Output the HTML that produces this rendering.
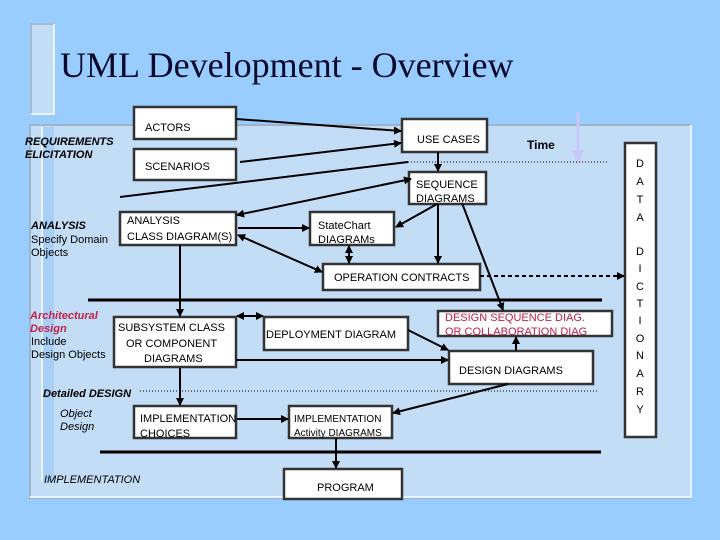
<!DOCTYPE html>
<html><head><meta charset="utf-8"><style>
body{margin:0;width:720px;height:540px;background:#99ccff;overflow:hidden}
svg{display:block}
text{font-family:"Liberation Sans",sans-serif;font-size:11px;fill:#000}
.b{fill:#fff;stroke:#333;stroke-width:2.5}
.l{stroke:#000;stroke-width:2;fill:none}
</style></head><body>
<svg width="720" height="540" viewBox="0 0 720 540">
<defs>
<marker id="a" markerWidth="8" markerHeight="8" refX="7" refY="4" orient="auto-start-reverse" markerUnits="userSpaceOnUse"><path d="M0,0L8,4L0,8z" fill="#000"/></marker>
</defs>
<rect x="30" y="125" width="661" height="373" fill="#c2ddf5" stroke="#9fb4c8" stroke-width="2"/>
<path d="M30,497H691V125" stroke="#eaf4ff" stroke-width="2" fill="none"/>
<rect x="31" y="24" width="23" height="90" fill="#c2ddf5" stroke="#a5b8cc" stroke-width="2"/>
<path d="M54,24V114H31" stroke="#eaf4ff" stroke-width="2" fill="none"/>
<rect x="42" y="127" width="12" height="355" fill="#a8d0f6"/>
<line x1="42" y1="127" x2="42" y2="482" stroke="#eaf4ff" stroke-width="2"/>
<text x="60" y="77" style="font-family:'Liberation Serif',serif;font-size:36px;fill:#0a0a2a">UML Development - Overview</text>
<!-- time arrow -->
<line x1="578" y1="112" x2="578" y2="160" stroke="#c8c8f8" stroke-width="3"/>
<path d="M572,150L578,166L584,150z" fill="#c8c8f8"/>
<text x="527" y="149" style="font-weight:bold;font-size:12px">Time</text>
<!-- thick lines -->
<line x1="88" y1="300" x2="602" y2="300" stroke="#000" stroke-width="3"/>
<line x1="100" y1="452" x2="601" y2="452" stroke="#000" stroke-width="3"/>
<line x1="408" y1="162" x2="607" y2="162" stroke="#000" stroke-dasharray="1,2"/>
<line x1="140" y1="391" x2="598" y2="391" stroke="#000" stroke-dasharray="1,2"/>
<!-- boxes -->
<rect class="b" x="134" y="107" width="102" height="32"/><text x="145" y="131">ACTORS</text>
<rect class="b" x="134" y="149" width="102" height="31"/><text x="145" y="170">SCENARIOS</text>
<rect class="b" x="402" y="119" width="85" height="33"/><text x="417" y="143">USE CASES</text>
<rect class="b" x="409" y="172" width="77" height="32"/><text x="416" y="188">SEQUENCE</text><text x="416" y="202">DIAGRAMS</text>
<rect class="b" x="120" y="212" width="116" height="33"/><text x="127" y="224">ANALYSIS</text><text x="127" y="240">CLASS DIAGRAM(S)</text>
<rect class="b" x="310" y="212" width="84" height="33"/><text x="318" y="229">StateChart</text><text x="318" y="243">DIAGRAMs</text>
<rect class="b" x="323" y="264" width="157" height="26"/><text x="334" y="281">OPERATION CONTRACTS</text>
<rect class="b" x="625" y="143" width="31" height="294"/>
<g style="text-anchor:middle"><text x="640" y="167">D</text><text x="640" y="185">A</text><text x="640" y="203">T</text><text x="640" y="221">A</text>
<text x="640" y="255">D</text><text x="640" y="272">I</text><text x="640" y="290">C</text><text x="640" y="307">T</text><text x="640" y="324">I</text><text x="640" y="342">O</text><text x="640" y="359">N</text><text x="640" y="377">A</text><text x="640" y="395">R</text><text x="640" y="413">Y</text></g>
<rect class="b" x="114" y="317" width="122" height="50"/><text x="118" y="331">SUBSYSTEM CLASS</text><text x="126" y="347">OR COMPONENT</text><text x="144" y="362">DIAGRAMS</text>
<rect class="b" x="264" y="317" width="144" height="33"/><text x="266" y="338">DEPLOYMENT DIAGRAM</text>
<rect class="b" x="438" y="311" width="174" height="25"/><text x="445" y="321" style="fill:#c0204a">DESIGN SEQUENCE  DIAG.</text><text x="445" y="335" style="fill:#c0204a">OR COLLABORATION DIAG</text>
<rect class="b" x="449" y="351" width="144" height="33"/><text x="459" y="374">DESIGN  DIAGRAMS</text>
<rect class="b" x="134" y="406" width="102" height="32"/><text x="140" y="422">IMPLEMENTATION</text><text x="140" y="437">CHOICES</text>
<rect class="b" x="289" y="406" width="103" height="32"/><text x="294" y="422" style="font-size:10px">IMPLEMENTATION</text><text x="294" y="436" style="font-size:10px">Activity DIAGRAMS</text>
<rect class="b" x="284" y="469" width="118" height="30"/><text x="317" y="491">PROGRAM</text>
<!-- connectors -->
<line class="l" x1="236" y1="119" x2="401" y2="131" marker-end="url(#a)"/>
<line class="l" x1="240" y1="162" x2="401" y2="143" marker-end="url(#a)"/>
<line class="l" x1="120" y1="197" x2="408" y2="162"/>
<line class="l" x1="237" y1="215" x2="411" y2="179" marker-start="url(#a)" marker-end="url(#a)"/>
<line class="l" x1="238" y1="228" x2="309" y2="228" marker-end="url(#a)"/>
<line class="l" x1="238" y1="235" x2="322" y2="272" marker-start="url(#a)" marker-end="url(#a)"/>
<line class="l" x1="349" y1="246" x2="349" y2="263" marker-start="url(#a)" marker-end="url(#a)"/>
<line class="l" x1="438" y1="152" x2="438" y2="171" marker-end="url(#a)"/>
<line class="l" x1="437" y1="204" x2="396" y2="227" marker-end="url(#a)"/>
<line class="l" x1="438" y1="204" x2="438" y2="263" marker-end="url(#a)"/>
<line class="l" x1="462" y1="203" x2="503" y2="310" marker-end="url(#a)"/>
<line x1="480" y1="276" x2="624" y2="276" stroke="#000" stroke-width="2" stroke-dasharray="4,3" marker-end="url(#a)"/>
<line class="l" x1="180" y1="245" x2="180" y2="316" marker-end="url(#a)"/>
<line class="l" x1="237" y1="316" x2="263" y2="316" marker-start="url(#a)" marker-end="url(#a)"/>
<line class="l" x1="408" y1="330" x2="448" y2="350" marker-end="url(#a)"/>
<line class="l" x1="236" y1="360" x2="448" y2="360" marker-end="url(#a)"/>
<line class="l" x1="516" y1="351" x2="516" y2="337" marker-end="url(#a)"/>
<line class="l" x1="180" y1="368" x2="180" y2="405" marker-end="url(#a)"/>
<line class="l" x1="508" y1="384" x2="393" y2="413" marker-end="url(#a)"/>
<line class="l" x1="237" y1="419" x2="288" y2="419" marker-end="url(#a)"/>
<line class="l" x1="336" y1="438" x2="336" y2="468" marker-end="url(#a)"/>
<!-- side labels -->
<text x="25" y="145" style="font-weight:bold;font-style:italic">REQUIREMENTS</text>
<text x="25" y="158" style="font-weight:bold;font-style:italic">ELICITATION</text>
<text x="31" y="229" style="font-weight:bold;font-style:italic">ANALYSIS</text>
<text x="31" y="243">Specify Domain</text><text x="31" y="256">Objects</text>
<text x="30" y="319" style="font-weight:bold;font-style:italic;fill:#c0204a">Architectural</text>
<text x="30" y="332" style="font-weight:bold;font-style:italic;fill:#c0204a">Design</text>
<text x="31" y="345">Include</text><text x="31" y="358">Design Objects</text>
<text x="43" y="397" style="font-weight:bold;font-style:italic">Detailed DESIGN</text>
<text x="60" y="417" style="font-style:italic">Object</text><text x="60" y="430" style="font-style:italic">Design</text>
<text x="44" y="483" style="font-style:italic">IMPLEMENTATION</text>
</svg>
</body></html>
